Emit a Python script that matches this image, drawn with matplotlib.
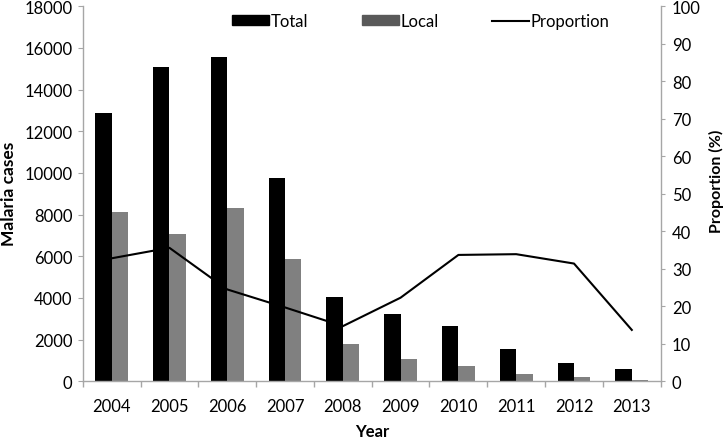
import matplotlib.pyplot as plt
from matplotlib.patches import Patch
from matplotlib.lines import Line2D
import numpy as np

plt.rcParams['font.family'] = ['Lato', 'DejaVu Sans']

# Данные
years = ['2004', '2005', '2006', '2007', '2008', '2009', '2010', '2011', '2012', '2013']
total_cases = [12900, 15100, 15550, 9770, 4030, 3230, 2650, 1530, 860, 590]
local_cases = [8150, 7080, 8320, 5870, 1800, 1080, 750, 330, 190, 60]
proportion = [32.8, 35.6, 24.5, 19.7, 14.7, 22.3, 33.7, 33.9, 31.4, 13.7]

grey_axis = '#a6a6a6'
bar_w = 0.285
fs = 12

fig = plt.figure(figsize=(7.25, 4.39), dpi=100)
ax = fig.add_axes([82.7 / 725, 56.7 / 439, 578 / 725, 375 / 439])

x = np.arange(len(years))
ax.bar(x - bar_w / 2, total_cases, width=bar_w, color='black', zorder=2)
ax.bar(x + bar_w / 2, local_cases, width=bar_w, color='#808080', zorder=2)

ax.set_xlim(-0.5, len(years) - 0.5)
ax.set_ylim(0, 18000)
ax.set_yticks(range(0, 18001, 2000))
ax.set_xticks(x)
ax.set_xticklabels(years)
ax.set_xticks(np.arange(-0.5, len(years)), minor=True)
ax.tick_params(axis='x', which='major', length=0, pad=12, labelsize=fs)
ax.tick_params(axis='x', which='minor', length=4.5, color=grey_axis, width=1)
ax.tick_params(axis='y', length=3.5, pad=4, color=grey_axis, labelsize=fs)

for s in ['top', 'right']:
    ax.spines[s].set_visible(False)
for s in ['left', 'bottom']:
    ax.spines[s].set_color(grey_axis)
    ax.spines[s].set_linewidth(1)

ax2 = ax.twinx()
ax2.plot(x, proportion, color='black', linewidth=1.5, zorder=3)
ax2.set_ylim(0, 100)
ax2.set_yticks(range(0, 101, 10))
ax2.tick_params(axis='y', length=3, pad=5, color=grey_axis, labelsize=fs)
for s in ['top', 'left', 'bottom']:
    ax2.spines[s].set_visible(False)
ax2.spines['right'].set_color(grey_axis)
ax2.spines['right'].set_linewidth(1)

fig.text(9 / 725, 1 - 194 / 439, 'Malaria cases', rotation=90, fontweight='bold',
         fontsize=12.5, ha='center', va='center')
fig.text(716.5 / 725, 1 - 181 / 439, 'Proportion (%)', rotation=90, fontweight='bold',
         fontsize=11.5, ha='center', va='center')
fig.text(372 / 725, 1 - 432 / 439, 'Year', fontweight='bold',
         fontsize=12, ha='center', va='center')

handles = [Patch(color='black'), Patch(color='#595959'),
           Line2D([0], [0], color='black', linewidth=1.5)]
labels = ['Total', 'Local', 'Proportion']
fig.legend(handles, labels, loc='center', bbox_to_anchor=(421 / 725, 1 - 22 / 439),
           ncol=3, frameon=False, fontsize=fs, handlelength=2.2, handleheight=0.55,
           handletextpad=0.12, columnspacing=3.2, borderpad=0, borderaxespad=0)

fig.savefig('out.png', dpi=100)
